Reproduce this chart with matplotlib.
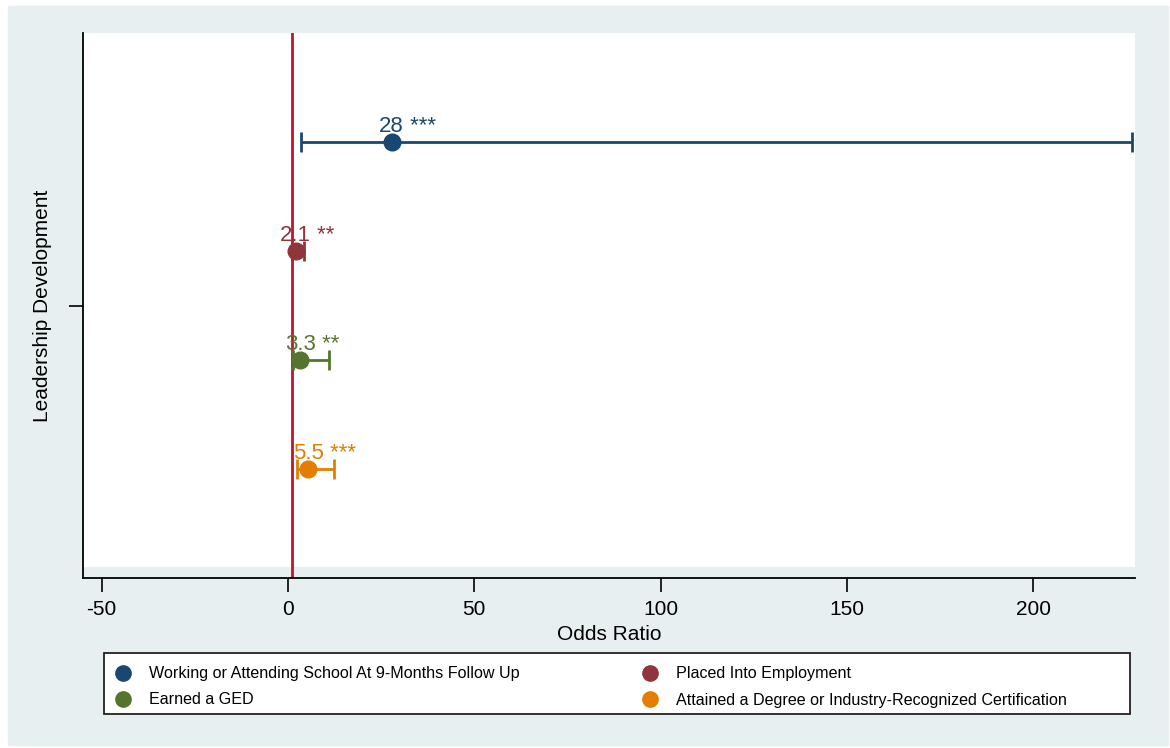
import matplotlib
matplotlib.use("Agg")
import matplotlib.pyplot as plt
from matplotlib.patches import Rectangle
from matplotlib.lines import Line2D

plt.rcParams['font.family'] = ['Liberation Sans', 'DejaVu Sans']
plt.rcParams['axes.unicode_minus'] = False

# data
outcomes = ['Working or Attending School At 9-Months Follow Up',
            'Placed Into Employment',
            'Earned a GED',
            'Attained a Degree or Industry-Recognized Certification']
odds = [27.8, 2.1, 3.3, 5.5]
ci_low = [3.5, 1.1, 1.3, 2.5]
ci_high = [226.5, 4.2, 11.0, 12.4]
value_labels = ['28', '2.1', '3.3', '5.5']
stars = ['***', '**', '**', '***']
offsets = [-0.3, -0.1, 0.1, 0.3]
colors = ['#1a476f', '#90353b', '#55752f', '#e37e00']
group = 'Leadership Development'
xticks = [-50, 0, 50, 100, 150, 200]

W, H = 1170, 748
fig = plt.figure(figsize=(W / 100, H / 100), dpi=100, facecolor='white')
bg = '#e8eff1'
fig.patches.append(Rectangle((8 / W, 3 / H), 1160 / W, 739 / H,
                             transform=fig.transFigure, color=bg, zorder=-10))

ax = fig.add_axes([83 / W, (H - 578) / H, 1052 / W, 545 / H])
ax.set_facecolor(bg)
ax.add_patch(Rectangle((0, 0.02), 1, 0.98, transform=ax.transAxes,
                       color='white', zorder=0, lw=0))

for i in range(len(odds)):
    y = 1 + offsets[i]
    c = colors[i]
    ax.errorbar(odds[i], y, xerr=[[odds[i] - ci_low[i]], [ci_high[i] - odds[i]]],
                fmt='o', color=c, ms=12, elinewidth=2, capsize=7, capthick=2,
                zorder=3)
    t = ax.annotate(value_labels[i], (odds[i], y), xytext=(0, 7),
                    textcoords='offset points', ha='center', va='baseline',
                    color=c, fontsize=16, zorder=4)
    ax.annotate(' ' + stars[i], xy=(1, 0), xycoords=t, ha='left', va='bottom',
                color=c, fontsize=16, zorder=4)

ax.axvline(1, color='#c41230', lw=2, zorder=2)

ax.set_xlim(-55, 227.3)
ax.set_ylim(1.5, 0.5)
ax.set_xticks(xticks)
ax.set_yticks([1])
ax.set_yticklabels([''])
ax.tick_params(axis='both', length=10, width=1.2, labelsize=15, pad=6)
for s in ['top', 'right']:
    ax.spines[s].set_visible(False)
for s in ['left', 'bottom']:
    ax.spines[s].set_linewidth(1.3)
ax.set_xlabel('Odds Ratio', fontsize=15, labelpad=4)
ax.set_ylabel(group, fontsize=15)
ax.yaxis.set_label_coords((52 - 83) / 1052, 0.5)

# legend box drawn separately so its size matches
fig.patches.append(Rectangle((104 / W, (H - 714) / H), 1026 / W, 61 / H,
                             transform=fig.transFigure, facecolor='white',
                             edgecolor='#222222', lw=1.3, zorder=1))
handles = [Line2D([], [], ls='none', marker='o', ms=11, color=c) for c in colors]
order = [0, 2, 1, 3]
leg = fig.legend([handles[k] for k in order], [outcomes[k] for k in order],
                 ncol=2, loc='upper left',
                 bbox_to_anchor=(112 / W, (H - 663) / H),
                 borderaxespad=0, fontsize=11.6, frameon=False,
                 handletextpad=1.1, labelspacing=0.7, borderpad=0.2,
                 handlelength=1.0, columnspacing=7.6)
leg.set_zorder(2)

fig.savefig('out.png', dpi=100, facecolor=fig.get_facecolor())
